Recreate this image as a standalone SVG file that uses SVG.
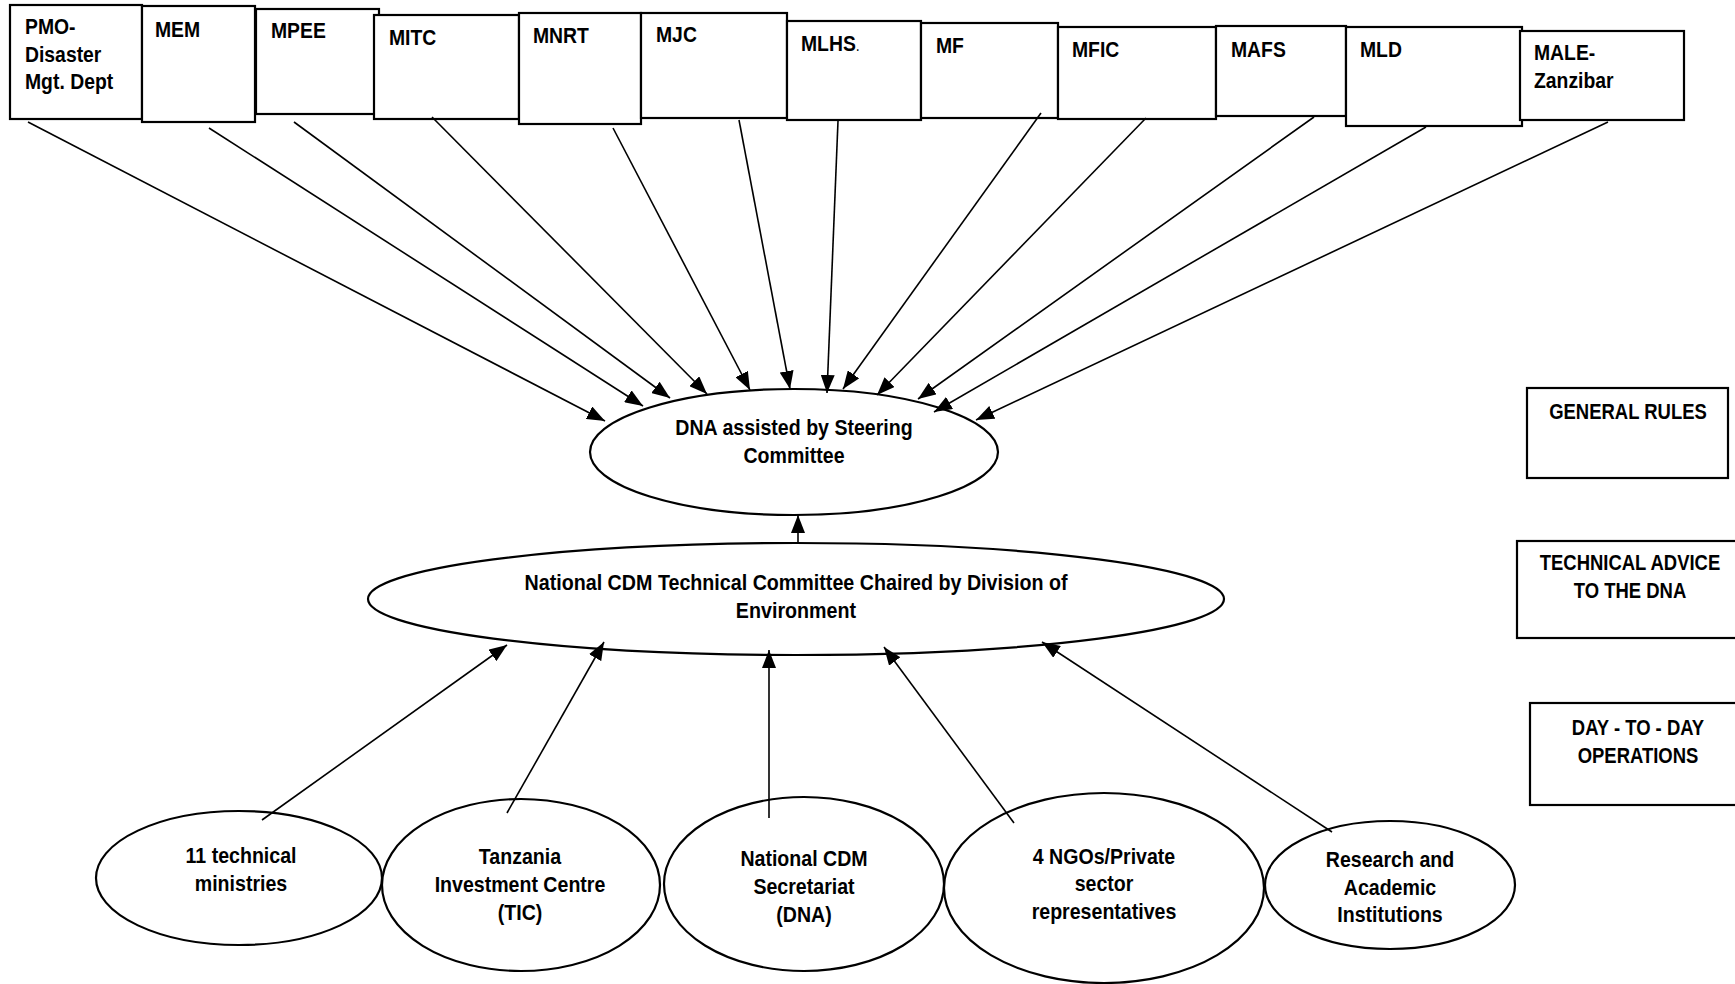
<svg xmlns="http://www.w3.org/2000/svg" width="1735" height="984" viewBox="0 0 1735 984">
<defs>
<marker id="arr" markerUnits="userSpaceOnUse" markerWidth="19" markerHeight="14" refX="18" refY="7" orient="auto">
<path d="M0,0 L18,7 L0,14 z" fill="#000"/>
</marker>
<style>
.box{fill:#fff;stroke:#000;stroke-width:2.2}
.ell{fill:#fff;stroke:#000;stroke-width:2.2}
.t{font-family:"Liberation Sans",Arial,sans-serif;font-weight:bold;font-size:22px;fill:#000}
.c{text-anchor:middle}
.ln{stroke:#000;stroke-width:1.6;fill:none;marker-end:url(#arr)}
</style>
</defs>
<rect width="1735" height="984" fill="#fff"/>

<g id="top-boxes">
<g id="n-pmo"><rect class="box" x="10" y="5" width="132" height="114"/><text class="t" transform="translate(25,34) scale(0.88,1)">PMO-</text><text class="t" transform="translate(25,62) scale(0.88,1)">Disaster</text><text class="t" transform="translate(25,89) scale(0.88,1)">Mgt. Dept</text></g>
<g id="n-mem"><rect class="box" x="142" y="6" width="113" height="116"/><text class="t" transform="translate(155,37) scale(0.88,1)">MEM</text></g>
<g id="n-mpee"><rect class="box" x="256" y="9" width="123" height="105"/><text class="t" transform="translate(271,38) scale(0.88,1)">MPEE</text></g>
<g id="n-mitc"><rect class="box" x="374" y="15" width="145" height="104"/><text class="t" transform="translate(389,45) scale(0.88,1)">MITC</text></g>
<g id="n-mnrt"><rect class="box" x="519" y="13" width="122" height="111"/><text class="t" transform="translate(533,43) scale(0.88,1)">MNRT</text></g>
<g id="n-mjc"><rect class="box" x="641" y="13" width="146" height="105"/><text class="t" transform="translate(656,42) scale(0.88,1)">MJC</text></g>
<g id="n-mlhs"><rect class="box" x="787" y="21" width="134" height="99"/><text class="t" transform="translate(801,51) scale(0.88,1)">MLHS<tspan font-weight="normal" font-size="16">.</tspan></text></g>
<g id="n-mf"><rect class="box" x="921" y="23" width="137" height="95"/><text class="t" transform="translate(936,53) scale(0.88,1)">MF</text></g>
<g id="n-mfic"><rect class="box" x="1058" y="27" width="158" height="92"/><text class="t" transform="translate(1072,57) scale(0.88,1)">MFIC</text></g>
<g id="n-mafs"><rect class="box" x="1216" y="26" width="130" height="90"/><text class="t" transform="translate(1231,57) scale(0.88,1)">MAFS</text></g>
<g id="n-mld"><rect class="box" x="1346" y="27" width="176" height="99"/><text class="t" transform="translate(1360,57) scale(0.88,1)">MLD</text></g>
<g id="n-male"><rect class="box" x="1520" y="31" width="164" height="89"/><text class="t" transform="translate(1534,60) scale(0.88,1)">MALE-</text><text class="t" transform="translate(1534,88) scale(0.88,1)">Zanzibar</text></g>
</g>

<g id="n-dna"><ellipse class="ell" cx="794" cy="452" rx="204" ry="63"/><text class="t c" transform="translate(794,435) scale(0.89,1)">DNA assisted by Steering</text><text class="t c" transform="translate(794,463) scale(0.89,1)">Committee</text></g>

<g id="n-ntc"><ellipse class="ell" cx="796" cy="599" rx="428" ry="56"/><text class="t c" transform="translate(796,590) scale(0.895,1)">National CDM Technical Committee Chaired by Division of</text><text class="t c" transform="translate(796,618) scale(0.895,1)">Environment</text></g>

<g id="n-tech"><ellipse class="ell" cx="239" cy="878" rx="143" ry="67"/><text class="t c" transform="translate(241,863) scale(0.89,1)">11 technical</text><text class="t c" transform="translate(241,891) scale(0.89,1)">ministries</text></g>
<g id="n-tic"><ellipse class="ell" cx="521" cy="885" rx="139" ry="86"/><text class="t c" transform="translate(520,864) scale(0.89,1)">Tanzania</text><text class="t c" transform="translate(520,892) scale(0.89,1)">Investment Centre</text><text class="t c" transform="translate(520,920) scale(0.89,1)">(TIC)</text></g>
<g id="n-sec"><ellipse class="ell" cx="804" cy="884" rx="140" ry="87"/><text class="t c" transform="translate(804,866) scale(0.89,1)">National CDM</text><text class="t c" transform="translate(804,894) scale(0.89,1)">Secretariat</text><text class="t c" transform="translate(804,922) scale(0.89,1)">(DNA)</text></g>
<g id="n-ngo"><ellipse class="ell" cx="1104" cy="888" rx="160" ry="95"/><text class="t c" transform="translate(1104,864) scale(0.89,1)">4 NGOs/Private</text><text class="t c" transform="translate(1104,891) scale(0.89,1)">sector</text><text class="t c" transform="translate(1104,919) scale(0.89,1)">representatives</text></g>
<g id="n-res"><ellipse class="ell" cx="1390" cy="885" rx="125" ry="64"/><text class="t c" transform="translate(1390,867) scale(0.89,1)">Research and</text><text class="t c" transform="translate(1390,895) scale(0.89,1)">Academic</text><text class="t c" transform="translate(1390,922) scale(0.89,1)">Institutions</text></g>

<g id="legend-general"><rect class="box" x="1527" y="388" width="201" height="90"/><text class="t c" transform="translate(1628,419) scale(0.84,1)">GENERAL RULES</text></g>
<g id="legend-tech"><rect class="box" x="1517" y="541" width="220" height="97"/><text class="t c" transform="translate(1630,570) scale(0.84,1)">TECHNICAL ADVICE</text><text class="t c" transform="translate(1630,598) scale(0.84,1)">TO THE DNA</text></g>
<g id="legend-day"><rect class="box" x="1530" y="703" width="210" height="102"/><text class="t c" transform="translate(1638,735) scale(0.84,1)">DAY - TO - DAY</text><text class="t c" transform="translate(1638,763) scale(0.84,1)">OPERATIONS</text></g>

<g id="connectors">
<line class="ln" x1="28" y1="122" x2="605" y2="421"/>
<line class="ln" x1="209" y1="128" x2="643" y2="406"/>
<line class="ln" x1="294" y1="122" x2="670" y2="398"/>
<line class="ln" x1="432" y1="117" x2="707" y2="394"/>
<line class="ln" x1="613" y1="128" x2="750" y2="390"/>
<line class="ln" x1="739" y1="120" x2="790" y2="389"/>
<line class="ln" x1="838" y1="121" x2="827" y2="393"/>
<line class="ln" x1="1041" y1="113" x2="843" y2="389"/>
<line class="ln" x1="1146" y1="118" x2="877" y2="395"/>
<line class="ln" x1="1314" y1="117" x2="918" y2="399"/>
<line class="ln" x1="1426" y1="127" x2="934" y2="412"/>
<line class="ln" x1="1608" y1="122" x2="976" y2="420"/>
<line class="ln" x1="798" y1="543" x2="798" y2="515"/>
<line class="ln" x1="262" y1="820" x2="507" y2="645"/>
<line class="ln" x1="507" y1="813" x2="604" y2="642"/>
<line class="ln" x1="769" y1="818" x2="769" y2="650"/>
<line class="ln" x1="1014" y1="823" x2="884" y2="647"/>
<line class="ln" x1="1332" y1="832" x2="1042" y2="642"/>
</g>
</svg>
